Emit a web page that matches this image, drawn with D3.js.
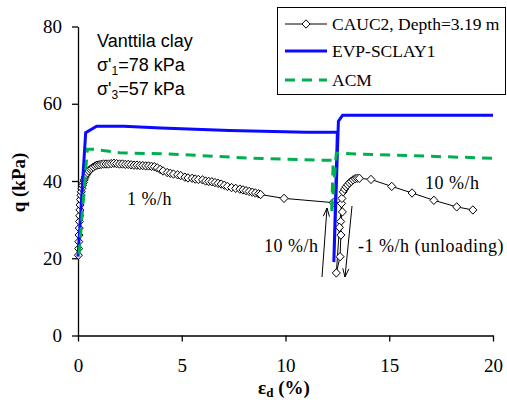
<!DOCTYPE html>
<html>
<head>
<meta charset="utf-8">
<script src="https://cdn.jsdelivr.net/npm/d3@7"></script>
<style>
  body { margin: 0; background: #fff; }
  svg { display: block; }
</style>
</head>
<body>
<div id="chart"></div>
<script>
const width = 507
const height = 403

// CAUC2 test data (strain %, q kPa)
const cauc2Strain = [0.02,0.03,0.04,0.05,0.06,0.07,0.08,0.09,0.1,0.12,0.14,0.16,0.19,0.22,0.26,0.3,0.35,0.4,0.46,0.52,0.59,0.66,0.74,0.83,0.92,1.02,1.12,1.23,1.35,1.47,1.6,1.73,1.86,2.0,2.14,2.28,2.42,2.56,2.7,2.84,2.98,3.12,3.26,3.4,3.54,3.68,3.82,3.96,4.1,4.3,4.45,4.6,4.8,4.95,5.15,5.3,5.5,5.65,5.8,6.0,6.15,6.3,6.45,6.6,6.75,6.9,7.05,7.2,7.4,7.6,7.8,7.95,8.1,8.25,8.4,8.55,8.7,8.8,9.93,12.3,12.7,12.74,12.66,12.67,12.63,12.45,12.6,12.72,12.78,12.85,12.92,13.0,13.08,13.17,13.26,13.36,13.46,13.56,14.12,15.12,16.1,17.15,18.25,19.03]
const cauc2Q = [20.8,22.5,24.3,26,27.8,29.5,31,32.5,33.8,35.2,36.3,37.2,38.1,38.9,39.6,40.3,41,41.6,42.1,42.6,43,43.3,43.6,43.9,44.1,44.2,44.3,44.4,44.4,44.4,44.5,44.6,44.5,44.4,44.4,44.3,44.3,44.2,44.1,44.1,44.0,44.0,43.9,43.9,43.8,43.7,43.4,43.0,42.6,42.2,42.0,41.8,41.6,41.4,41.0,40.8,40.7,40.5,40.4,40.3,40.0,39.9,39.8,39.6,39.4,39.2,38.9,38.6,38.3,38.1,37.9,37.7,37.5,37.3,37.1,36.9,36.7,36.5,35.5,34.4,34.2,32,29.5,26,20.4,16.2,28,35.5,37.2,37.9,38.5,39.0,39.5,39.9,40.3,40.6,40.7,40.7,40.4,38.6,36.9,35,33.3,32.5]

// EVP-SCLAY1 model
const evpStrain = [0,0.37,0.9,2.2,4,7.3,11,12.5,12.33,12.55,12.75,20]
const evpQ = [20.4,52.5,54.2,54.2,53.7,53.1,52.6,52.7,19,55.5,57.0,57.0]

// ACM model
const acmStrain = [0.05,0.45,0.8,2,4.4,8.4,11.5,12.3,12.22,12.45,14.5,20]
const acmQ = [21,48.2,48.2,47.3,47,45.9,45.4,45.4,31.5,47.2,46.8,45.9]

const xTicks = [0,5,10,15,20]
const yTicks = [0,20,40,60,80]
const legendLabels = ["CAUC2, Depth=3.19 m", "EVP-SCLAY1", "ACM"]

const serif = "Liberation Serif, Times New Roman, serif"
const sans = "Liberation Sans, Arial, sans-serif"

const svg = d3.select("#chart").append("svg").attr("width", width).attr("height", height)

const x = d3.scaleLinear().domain([0, 20]).range([78, 493])
const y = d3.scaleLinear().domain([0, 80]).range([335.5, 26.5])

const zip = (xs, ys) => xs.map((v, i) => [v, ys[i]])
const line = d3.line().x(d => x(d[0])).y(d => y(d[1]))

// ejes
svg.append("g").attr("transform", `translate(0, ${y(0)})`)
    .call(d3.axisBottom(x).tickValues(xTicks).tickSize(6).tickSizeOuter(0).tickPadding(17))
svg.append("g").attr("transform", `translate(${x(0)}, 0)`)
    .call(d3.axisLeft(y).tickValues(yTicks).tickSize(6).tickSizeOuter(0).tickPadding(10))
svg.selectAll(".tick text")
    .style("font-family", serif).style("font-size", "19px").attr("fill", "#000")
svg.selectAll(".domain, .tick line").attr("stroke", "#000").attr("stroke-width", 1.3)

// titulos de ejes
svg.append("text")
    .attr("transform", `translate(25, 182.5) rotate(-90)`)
    .attr("text-anchor", "middle")
    .style("font-family", serif).style("font-size", "19px").style("font-weight", "bold")
    .text("q (kPa)")
const xt = svg.append("text")
    .attr("x", 284).attr("y", 394)
    .attr("text-anchor", "middle")
    .style("font-family", serif).style("font-size", "19px").style("font-weight", "bold")
xt.append("tspan").text("ε")
xt.append("tspan").style("font-size", "13px").attr("dy", 3).text("d")
xt.append("tspan").attr("dy", -3).text(" (%)")

// series
const diamond = "M0,-4.2L4,0L0,4.2L-4,0Z"
const cauc = zip(cauc2Strain, cauc2Q)
svg.append("path").datum(cauc).attr("d", line)
    .attr("fill", "none").attr("stroke", "#000").attr("stroke-width", 1)
svg.append("g").selectAll("path").data(cauc).join("path")
    .attr("d", diamond)
    .attr("transform", d => `translate(${x(d[0])}, ${y(d[1])})`)
    .attr("fill", "#fff").attr("stroke", "#000").attr("stroke-width", 1)

svg.append("path").datum(zip(evpStrain, evpQ)).attr("d", line)
    .attr("fill", "none").attr("stroke", "#0a0aff").attr("stroke-width", 3)

svg.append("path").datum(zip(acmStrain, acmQ)).attr("d", line)
    .attr("fill", "none").attr("stroke", "#00b050").attr("stroke-width", 3)
    .attr("stroke-dasharray", "10,7")

// anotaciones
const note = svg.append("g").style("font-family", sans).style("font-size", "18px").attr("fill", "#000")
note.append("text").attr("x", 97).attr("y", 47).text("Vanttila clay")
const s1 = note.append("text").attr("x", 97).attr("y", 71)
s1.append("tspan").text("σ'")
s1.append("tspan").style("font-size", "12px").attr("dy", 4).text("1")
s1.append("tspan").attr("dy", -4).text("=78 kPa")
const s3 = note.append("text").attr("x", 97).attr("y", 95)
s3.append("tspan").text("σ'")
s3.append("tspan").style("font-size", "12px").attr("dy", 4).text("3")
s3.append("tspan").attr("dy", -4).text("=57 kPa")

const rates = svg.append("g").style("font-family", serif).style("font-size", "18px")
    .style("letter-spacing", "0.5px").attr("fill", "#000")
rates.append("text").attr("x", 127).attr("y", 205).text("1 %/h")
rates.append("text").attr("x", 264).attr("y", 252).text("10 %/h")
rates.append("text").attr("x", 358).attr("y", 252).text("-1 %/h (unloading)")
rates.append("text").attr("x", 425).attr("y", 189).text("10 %/h")

// flechas
function arrow(x1, y1, x2, y2) {
    const a = Math.atan2(y2 - y1, x2 - x1)
    const l = 9, s = 0.35
    svg.append("path")
        .attr("d", `M${x1},${y1}L${x2},${y2}M${x2 - l * Math.cos(a - s)},${y2 - l * Math.sin(a - s)}L${x2},${y2}L${x2 - l * Math.cos(a + s)},${y2 - l * Math.sin(a + s)}`)
        .attr("fill", "none").attr("stroke", "#000").attr("stroke-width", 1)
}
arrow(322, 277, 327, 208)
arrow(352, 206, 345, 277)

// leyenda
const legend = svg.append("g")
legend.append("rect").attr("x", 277.5).attr("y", 7.5).attr("width", 228).attr("height", 87)
    .attr("fill", "#fff").attr("stroke", "#000").attr("stroke-width", 1)
const rows = [24, 51, 80]
legendLabels.forEach((lab, i) => {
    const g = legend.append("g").attr("transform", `translate(0, ${rows[i]})`)
    const ln = g.append("line").attr("x1", 285).attr("x2", 327)
    if (i === 0) {
        ln.attr("stroke", "#000").attr("stroke-width", 1)
        g.append("path").attr("d", diamond).attr("transform", "translate(306, 0)")
            .attr("fill", "#fff").attr("stroke", "#000")
    } else if (i === 1) {
        ln.attr("stroke", "#0a0aff").attr("stroke-width", 3)
    } else {
        ln.attr("stroke", "#00b050").attr("stroke-width", 3).attr("stroke-dasharray", "10,7")
    }
    g.append("text").attr("x", 332).attr("y", 6)
        .style("font-family", serif).style("font-size", "17.5px").text(lab)
})
</script>
</body>
</html>
